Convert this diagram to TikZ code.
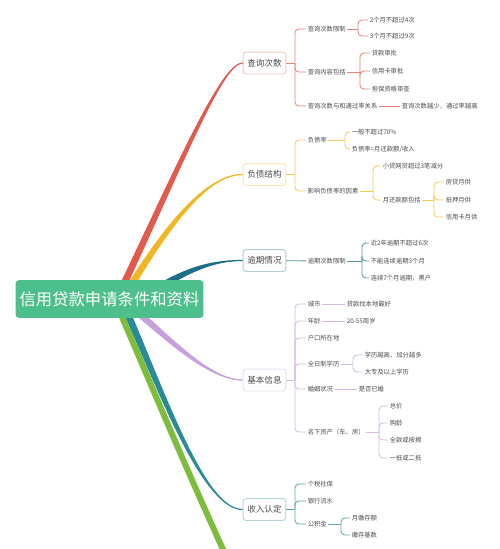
\documentclass[tikz,border=0pt]{standalone}
\usepackage{fontspec}
\usepackage{tikz}
\usetikzlibrary{
  positioning,
  calc,
}
\newfontfamily\cjk{Noto Sans CJK SC}
\definecolor{rootGreen}{HTML}{4DBF8C}
\definecolor{brRed}{HTML}{E15A4C}
\definecolor{brYellow}{HTML}{F3B623}
\definecolor{brTeal}{HTML}{1D6F87}
\definecolor{brLilac}{HTML}{C7A0DE}
\definecolor{brCyan}{HTML}{2B8A97}
\definecolor{brGreen}{HTML}{7DBD3B}
\definecolor{inkgray}{HTML}{4A4A4A}
\tikzset{
  rootbox/.style={
    rectangle, rounded corners=2pt, fill=rootGreen, text=white,
    minimum width=107pt, minimum height=21.5pt, inner sep=0pt,
    font=\cjk\fontsize{9.3}{11}\selectfont,
  },
  topicbox/.style={
    rectangle, rounded corners=1.8pt, draw=#1!35, line width=0.55pt,
    fill=white, text=inkgray, minimum width=24.4pt, minimum height=12.5pt,
    inner sep=0pt, font=\cjk\fontsize{4.9}{6}\selectfont,
  },
  leaf/.style={
    anchor=west, inner sep=0.8pt, text=inkgray,
    font=\cjk\fontsize{3.6}{4.4}\selectfont,
  },
  twig/.style={draw=#1!75, line width=0.5pt},
  fork/.style={twig=#1, rounded corners=2.2pt},
}
% tapered main branch: colour, start, control 1, control 2, end
\newcommand{\mainbranch}[5]{%
  \coordinate (nL) at ($(#2)!2pt!90:(#3)$);
  \coordinate (nR) at ($(#2)!2pt!-90:(#3)$);
  \fill[#1] (nL) .. controls ($(#3)+0.8*(nL)-0.8*(#2)$)
      and ($(#4)+0.35*(nL)-0.35*(#2)$) .. (#5)
    .. controls ($(#4)+0.35*(nR)-0.35*(#2)$)
      and ($(#3)+0.8*(nR)-0.8*(#2)$) .. (nR) -- cycle;
  \draw[#1, line width=0.7pt] (#2) .. controls (#3) and (#4) .. (#5);
}

\begin{document}
\begin{tikzpicture}[x=0.02cm, y=-0.02cm]
\useasboundingbox (0,0) rectangle (500,549);
\begin{scope}
\clip (0,0) rectangle (500,549);

% topic boxes
\node[topicbox=brRed] (q) at (264.5,63) {查询次数};
\node[topicbox=brYellow] (d) at (264.5,174.5) {负债结构};
\node[topicbox=brTeal] (o) at (264.5,260.5) {逾期情况};
\node[topicbox=brLilac] (b) at (264.5,380) {基本信息};
\node[topicbox=brCyan] (i) at (264.5,509.5) {收入认定};

% 查询次数
\node[leaf] (q1) at (306,29) {查询次数限制};
\node[leaf] (q2) at (306,72) {查询内容包括};
\node[leaf] (q3) at (306,106) {查询次数与和通过率关系};
\node[leaf] (q11) at (368,20) {2个月不超过4次};
\node[leaf] (q12) at (368,36) {3个月不超过9次};
\node[leaf] (q21) at (370,53) {贷款审批};
\node[leaf] (q22) at (370,71) {信用卡审批};
\node[leaf] (q23) at (370,89) {担保资格审查};
\node[leaf] (q31) at (400,106) {查询次数越少，通过率越高};
\coordinate (qf) at (295,63);
\coordinate (q1f) at (358,29);
\coordinate (q2f) at (360,72);
\draw[twig=brRed] (q) -- (qf);
\foreach \n in {q1,q2,q3} \draw[fork=brRed] (qf) |- (\n.west);
\draw[twig=brRed] (q1) -- (q1f);
\foreach \n in {q11,q12} \draw[fork=brRed] (q1f) |- (\n.west);
\draw[twig=brRed] (q2) -- (q2f);
\foreach \n in {q21,q22,q23} \draw[fork=brRed] (q2f) |- (\n.west);
\draw[twig=brRed] (q3) -- (q31);

% 负债结构
\node[leaf] (d1) at (306,140) {负债率};
\node[leaf] (d2) at (306,191) {影响负债率的因素};
\node[leaf] (d11) at (350,132) {一般不超过70\%};
\node[leaf] (d12) at (350,149) {负债率=月还款额/收入};
\node[leaf] (d21) at (381,166) {小贷网贷超过3笔减分};
\node[leaf] (d22) at (381,200) {月还款额包括};
\node[leaf] (d221) at (444,182) {房贷月供};
\node[leaf] (d222) at (444,200) {抵押月供};
\node[leaf] (d223) at (444,217) {信用卡月供};
\coordinate (df) at (295,174.5);
\coordinate (d1f) at (345,140);
\coordinate (d2f) at (373,191);
\coordinate (d22f) at (434,200);
\draw[twig=brYellow] (d) -- (df);
\foreach \n in {d1,d2} \draw[fork=brYellow] (df) |- (\n.west);
\draw[twig=brYellow] (d1) -- (d1f);
\foreach \n in {d11,d12} \draw[fork=brYellow] (d1f) |- (\n.west);
\draw[twig=brYellow] (d2) -- (d2f);
\foreach \n in {d21,d22} \draw[fork=brYellow] (d2f) |- (\n.west);
\draw[twig=brYellow] (d22) -- (d22f);
\foreach \n in {d221,d222,d223} \draw[fork=brYellow] (d22f) |- (\n.west);

% 逾期情况
\node[leaf] (o1) at (306,261) {逾期次数限制};
\node[leaf] (o11) at (369,243) {近2年逾期不超过6次};
\node[leaf] (o12) at (369,261) {不能连续逾期3个月};
\node[leaf] (o13) at (369,278) {连续7个月逾期，黑户};
\coordinate (o1f) at (362,261);
\draw[twig=brTeal] (o) -- (o1);
\draw[twig=brTeal] (o1) -- (o1f);
\foreach \n in {o11,o12,o13} \draw[fork=brTeal] (o1f) |- (\n.west);

% 基本信息
\node[leaf] (b1) at (306,304) {城市};
\node[leaf] (b2) at (306,321) {年龄};
\node[leaf] (b3) at (306,338) {户口所在地};
\node[leaf] (b4) at (306,364) {全日制学历};
\node[leaf] (b5) at (306,389) {婚姻状况};
\node[leaf] (b6) at (306,432) {名下资产（车、房）};
\node[leaf] (b11) at (345,304) {贷款找本地最好};
\node[leaf] (b21) at (345,321) {20-55周岁};
\node[leaf] (b41) at (363,355) {学历越高、加分越多};
\node[leaf] (b42) at (363,372) {大专及以上学历};
\node[leaf] (b51) at (357,389) {是否已婚};
\node[leaf] (b61) at (388,406) {总价};
\node[leaf] (b62) at (388,423) {购龄};
\node[leaf] (b63) at (388,440) {全款或按揭};
\node[leaf] (b64) at (388,458) {一抵或二抵};
\coordinate (bf) at (295,380);
\coordinate (b4f) at (353,364);
\coordinate (b6f) at (379,432);
\draw[twig=brLilac] (b) -- (bf);
\foreach \n in {b1,b2,b3,b4,b5,b6} \draw[fork=brLilac] (bf) |- (\n.west);
\draw[twig=brLilac] (b1) -- (b11);
\draw[twig=brLilac] (b2) -- (b21);
\draw[twig=brLilac] (b4) -- (b4f);
\foreach \n in {b41,b42} \draw[fork=brLilac] (b4f) |- (\n.west);
\draw[twig=brLilac] (b5) -- (b51);
\draw[twig=brLilac] (b6) -- (b6f);
\foreach \n in {b61,b62,b63,b64} \draw[fork=brLilac] (b6f) |- (\n.west);

% 收入认定
\node[leaf] (i1) at (306,484) {个税社保};
\node[leaf] (i2) at (306,501) {银行流水};
\node[leaf] (i3) at (306,524) {公积金};
\node[leaf] (i31) at (350,518) {月缴存额};
\node[leaf] (i32) at (350,535) {缴存基数};
\coordinate (if) at (295,509.5);
\coordinate (i3f) at (341,524);
\draw[twig=brCyan] (i) -- (if);
\foreach \n in {i1,i2,i3} \draw[fork=brCyan] (if) |- (\n.west);
\draw[twig=brCyan] (i3) -- (i3f);
\foreach \n in {i31,i32} \draw[fork=brCyan] (i3f) |- (\n.west);

% main branches out of the root
\coordinate (sRed) at (121,290);
\coordinate (sYellow) at (128,290);
\coordinate (sTeal) at (155,290);
\coordinate (sLilac) at (135,310);
\coordinate (sCyan) at (126,310);
\coordinate (sGreen) at (119,310);
\coordinate (gOff) at (290,690);
\mainbranch{brRed}{sRed}{180,165}{222,63}{q.west}
\mainbranch{brYellow}{sYellow}{165,230}{205,174.5}{d.west}
\mainbranch{brTeal}{sTeal}{190,268}{215,260.5}{o.west}
\mainbranch{brLilac}{sLilac}{170,340}{210,380}{b.west}
\mainbranch{brCyan}{sCyan}{165,400}{205,509.5}{i.west}
\draw[brGreen, line width=3.4pt] (sGreen) .. controls (160,405) and (215,540) .. (gOff);

\node[rootbox] (root) at (109.5,299) {信用贷款申请条件和资料};
\end{scope}
\end{tikzpicture}
\end{document}
